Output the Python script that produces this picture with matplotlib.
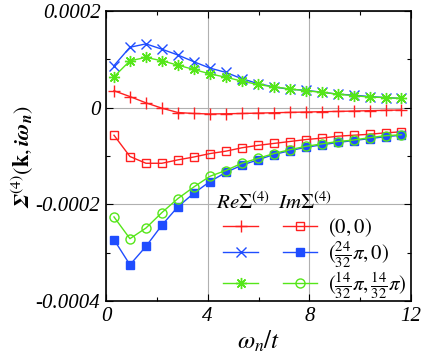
import numpy as np
import matplotlib
matplotlib.use("Agg")
import matplotlib.pyplot as plt
from matplotlib.legend_handler import HandlerTuple

plt.rcParams['font.family'] = ['Liberation Serif', 'DejaVu Serif']
plt.rcParams['mathtext.fontset'] = 'stix'

# Matsubara frequencies omega_n / t
omega = [0.314, 0.942, 1.571, 2.199, 2.827, 3.456, 4.084, 4.712, 5.341, 5.969,
         6.597, 7.226, 7.854, 8.482, 9.111, 9.739, 10.367, 10.996, 11.624]

# values in units of 1e-4
re_00 = [0.35, 0.23, 0.10, -0.01, -0.10, -0.12, -0.13, -0.126, -0.12, -0.112,
         -0.105, -0.097, -0.09, -0.083, -0.077, -0.07, -0.062, -0.055, -0.048]
re_pi0 = [0.87, 1.25, 1.32, 1.21, 1.09, 0.95, 0.82, 0.73, 0.60, 0.50,
          0.43, 0.38, 0.36, 0.32, 0.28, 0.26, 0.23, 0.21, 0.19]
re_pipi = [0.64, 0.97, 1.04, 0.97, 0.88, 0.79, 0.70, 0.63, 0.55, 0.48,
           0.43, 0.39, 0.35, 0.32, 0.28, 0.25, 0.22, 0.21, 0.19]
im_00 = [-0.57, -1.01, -1.15, -1.15, -1.08, -1.02, -0.95, -0.90, -0.83, -0.78,
         -0.74, -0.70, -0.66, -0.63, -0.59, -0.57, -0.55, -0.52, -0.50]
im_pi0 = [-2.73, -3.25, -2.87, -2.43, -2.05, -1.77, -1.53, -1.34, -1.19, -1.08,
          -0.97, -0.89, -0.82, -0.77, -0.72, -0.68, -0.64, -0.60, -0.57]
im_pipi = [-2.26, -2.71, -2.49, -2.17, -1.88, -1.64, -1.42, -1.30, -1.15, -1.05,
           -0.95, -0.87, -0.80, -0.75, -0.70, -0.67, -0.62, -0.58, -0.56]

labels = [r'$(\mathit{0},\mathit{0})$', r'$(\frac{24}{32}\pi,\mathit{0})$',
          r'$(\frac{14}{32}\pi,\frac{14}{32}\pi)$']

red = '#ff2020'
blue = '#1f4dff'
green = '#55e619'

fig = plt.figure(figsize=(4.21, 3.55), dpi=100)
ax = fig.add_axes([0.2518, 0.152, 0.7245, 0.817])

w = np.array(omega)
s = 1e-4
lw = 1.0
l1, = ax.plot(w, np.array(re_00) * s, color=red, lw=lw, marker='+', ms=8, mew=1.0)
l2, = ax.plot(w, np.array(re_pi0) * s, color=blue, lw=lw, marker='x', ms=7, mew=1.0)
l3, = ax.plot(w, np.array(re_pipi) * s, color=green, lw=lw, marker=(8, 2, 0), ms=8, mew=1.0)
l4, = ax.plot(w, np.array(im_00) * s, color=red, lw=lw, marker='s', ms=6, mfc='none', mew=1.0)
l5, = ax.plot(w, np.array(im_pi0) * s, color=blue, lw=lw, marker='s', ms=6, mew=1.0)
l6, = ax.plot(w, np.array(im_pipi) * s, color=green, lw=lw, marker='o', ms=6.5, mfc='none', mew=1.0)

ax.set_xlim(0, 12)
ax.set_ylim(-0.0004, 0.0002)
ax.set_xticks([0, 4, 8, 12])
ax.set_xticks([2, 6, 10], minor=True)
ax.set_yticks([-0.0004, -0.0002, 0, 0.0002])
ax.set_yticks([-0.0003, -0.0001, 0.0001], minor=True)
ax.set_xticklabels(['0', '4', '8', '12'], fontsize=15, style='italic')
ax.set_yticklabels(['-0.0004', '-0.0002', '0', '0.0002'], fontsize=15, style='italic')
ax.tick_params(which='both', direction='in', top=True, right=True, width=0.8)
ax.tick_params(which='major', length=5, pad=4)
ax.tick_params(which='minor', length=3)
for sp in ax.spines.values():
    sp.set_linewidth(1.2)
ax.grid(True, which='major', color='#b0b0b0', lw=0.8)
ax.set_axisbelow(True)

ax.set_xlabel(r'$\omega_n/t$', fontsize=18, labelpad=2)
ax.set_ylabel(r'$\mathbfit{\Sigma}^{(4)}(\mathbf{k},\mathbfit{i\omega_n})$', fontsize=16, labelpad=0)

fs = 15
leg = ax.legend([(l1, l4), (l2, l5), (l3, l6)], labels,
                handler_map={tuple: HandlerTuple(ndivide=2, pad=1.2)},
                loc='upper left', bbox_to_anchor=(0.385, 0.292), frameon=False,
                fontsize=fs, handlelength=4.5, handletextpad=0.5,
                labelspacing=0.0, numpoints=1, borderpad=0, borderaxespad=0)
ax.text(0.36, 0.338, r'$Re\Sigma^{(4)}$', transform=ax.transAxes, fontsize=15, va='center')
ax.text(0.565, 0.338, r'$Im\Sigma^{(4)}$', transform=ax.transAxes, fontsize=15, va='center')

fig.savefig('out.png', dpi=100)
